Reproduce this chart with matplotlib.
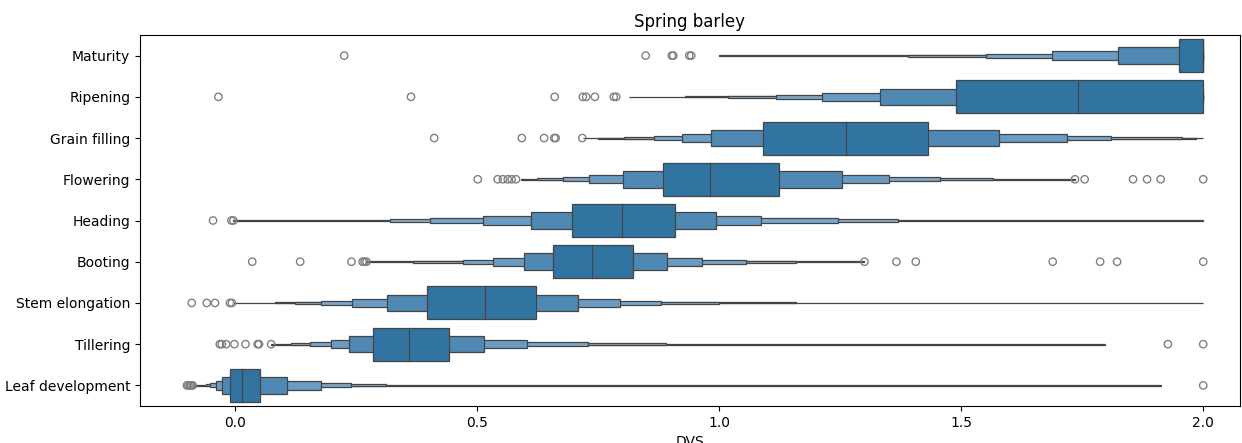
import matplotlib
matplotlib.use("Agg")
import matplotlib.pyplot as plt

# 생육단계별 DVS 분포 (letter-value 박스 경계값, 그림에서 읽은 값)
stages = ["Maturity", "Ripening", "Grain filling", "Flowering", "Heading",
          "Booting", "Stem elongation", "Tillering", "Leaf development"]

medians = [2.0, 1.741, 1.262, 0.981, 0.798, 0.737, 0.515, 0.358, 0.013]

# 안쪽 박스부터 바깥쪽 박스 순서
lower_edges = [
    [1.949, 1.824, 1.687, 1.551, 1.389, 1.000],
    [1.490, 1.333, 1.213, 1.117, 1.018, 0.929, 0.813],
    [1.091, 0.983, 0.923, 0.865, 0.804, 0.749, 0.718],
    [0.883, 0.802, 0.731, 0.677, 0.623, 0.590],
    [0.695, 0.611, 0.511, 0.402, 0.319, -0.004],
    [0.656, 0.597, 0.533, 0.470, 0.367, 0.271],
    [0.397, 0.313, 0.242, 0.178, 0.123, 0.081, -0.005],
    [0.285, 0.234, 0.197, 0.155, 0.116, 0.074],
    [-0.012, -0.027, -0.039, -0.052, -0.061, -0.086],
]
upper_edges = [
    [2.0, 2.0, 2.0, 2.0, 2.0, 2.0],
    [2.0, 2.0, 2.0, 2.0, 2.0, 2.0, 2.0],
    [1.431, 1.577, 1.718, 1.810, 1.957, 1.985, 2.0],
    [1.123, 1.254, 1.351, 1.456, 1.566, 1.735],
    [0.908, 0.993, 1.086, 1.245, 1.370, 2.0],
    [0.822, 0.892, 0.964, 1.055, 1.159, 1.300],
    [0.621, 0.709, 0.795, 0.879, 0.999, 1.158, 2.0],
    [0.442, 0.513, 0.602, 0.728, 0.890, 1.797],
    [0.052, 0.107, 0.178, 0.240, 0.311, 1.912],
]

outliers = [
    [0.225, 0.848, 0.902, 0.905, 0.938, 0.942],
    [-0.035, 0.363, 0.660, 0.718, 0.725, 0.743, 0.782, 0.787],
    [0.411, 0.592, 0.638, 0.659, 0.662, 0.717],
    [0.501, 0.542, 0.553, 0.563, 0.571, 0.580, 1.735, 1.755, 1.855, 1.884, 1.912, 2.0],
    [-0.046, -0.008, -0.004],
    [0.035, 0.134, 0.240, 0.263, 0.267, 0.271, 1.300, 1.366, 1.406, 1.689, 1.787, 1.822, 2.0],
    [-0.090, -0.059, -0.042, -0.011, -0.007],
    [-0.032, -0.028, -0.019, -0.002, 0.021, 0.046, 0.049, 0.074, 1.927, 2.0],
    [-0.100, -0.097, -0.094, -0.091, -0.088, 2.0],
]

level_colors = ["#3274a1", "#4f89b3", "#6a9bc3", "#7aa7cc", "#8ab1d2", "#9abcd8", "#a9c6dd"]
line_color = "#444444"

fig, ax = plt.subplots(figsize=(12.42, 4.43), dpi=100)
fig.subplots_adjust(left=0.1127, right=0.998, top=0.921, bottom=0.0835)

for i, stage in enumerate(stages):
    lo = lower_edges[i]
    hi = upper_edges[i]
    # 바깥 박스를 먼저 그리고 안쪽 박스를 위에 덮음
    for j in reversed(range(len(lo))):
        ax.barh(i, hi[j] - lo[j], left=lo[j], height=0.8 * 0.5 ** j,
                color=level_colors[j], edgecolor=line_color, linewidth=0.9, zorder=2)
    ax.plot([medians[i], medians[i]], [i - 0.4, i + 0.4], color=line_color, linewidth=0.9, zorder=3)
    ax.scatter(outliers[i], [i] * len(outliers[i]), s=28, facecolors="none",
               edgecolors="#808080", linewidths=1.0, zorder=3)

ax.set_yticks(range(len(stages)))
ax.set_yticklabels(stages)
ax.set_ylim(len(stages) - 0.5, -0.5)
ax.set_xlim(-0.197, 2.075)
ax.set_xticks([0.0, 0.5, 1.0, 1.5, 2.0])
ax.set_xlabel("DVS")
ax.set_title("Spring barley")

plt.savefig("out.png", dpi=100)
